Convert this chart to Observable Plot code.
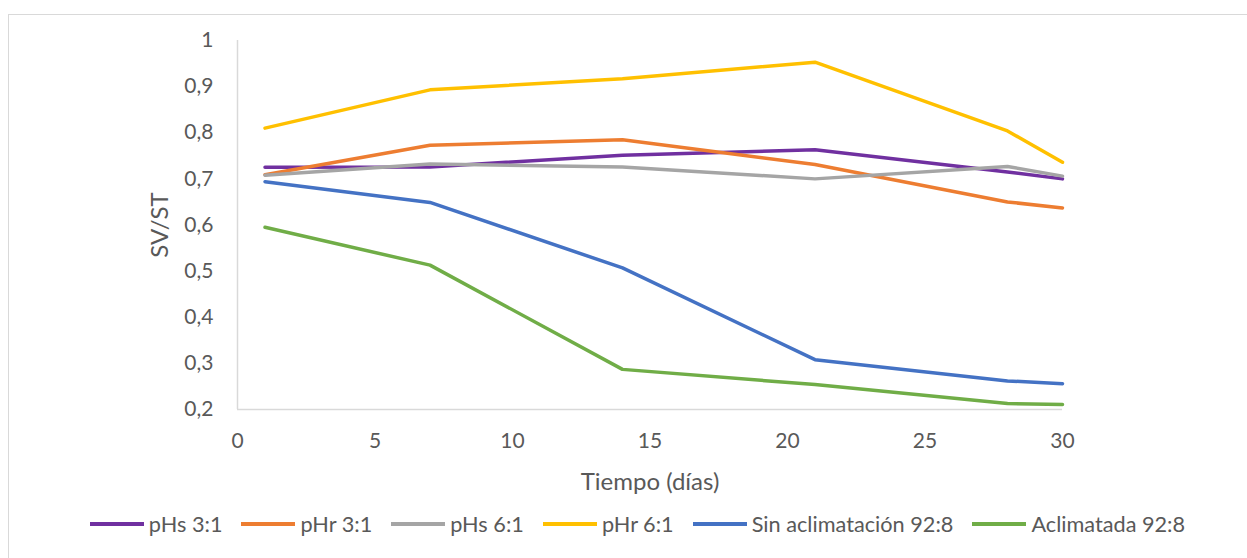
<!DOCTYPE html>
<html>
<head>
<meta charset="utf-8">
<script src="https://cdn.jsdelivr.net/npm/d3@7"></script>
<script src="https://cdn.jsdelivr.net/npm/@observablehq/plot@0.6"></script>
<style>
  html, body { margin: 0; padding: 0; background: #fff; }
  #wrap { position: relative; width: 1247px; height: 558px; overflow: hidden; font-family: Lato, "Open Sans", sans-serif; }
  #frame { position: absolute; left: 8px; top: 14px; width: 1260px; height: 580px; border: 1.5px solid #d9d9d9; box-sizing: border-box; }
  #chart { position: absolute; left: 0; top: 0; }
  #legend { position: absolute; left: 0; top: 511px; width: 1247px; display: flex; justify-content: center; gap: 19px; padding-left: 28px; box-sizing: border-box; font-size: 21.7px; line-height: 26px; color: #595959; }
  .item { display: flex; align-items: center; gap: 5px; }
  .sw { width: 54px; height: 4px; }
</style>
</head>
<body>
<div id="wrap">
  <div id="frame"></div>
  <div id="chart"></div>
  <div id="legend"></div>
</div>
<script>
// Days on which SV/ST was measured
const days = [1, 7, 14, 21, 28, 30];

// SV/ST ratio per treatment
const pHs31 = [0.725, 0.726, 0.751, 0.763, 0.715, 0.700];
const pHr31 = [0.709, 0.773, 0.785, 0.731, 0.650, 0.637];
const pHs61 = [0.708, 0.732, 0.726, 0.700, 0.727, 0.706];
const pHr61 = [0.810, 0.893, 0.917, 0.953, 0.804, 0.736];
const sinAclim = [0.694, 0.649, 0.507, 0.308, 0.262, 0.256];
const aclimatada = [0.595, 0.513, 0.287, 0.254, 0.213, 0.211];

const seriesNames = ["pHs 3:1", "pHr 3:1", "pHs 6:1", "pHr 6:1", "Sin aclimatación 92:8", "Aclimatada 92:8"];
const seriesValues = [pHs31, pHr31, pHs61, pHr61, sinAclim, aclimatada];
const seriesColors = ["#7030A0", "#ED7D31", "#A5A5A5", "#FFC000", "#4472C4", "#70AD47"];

// Axis ticks and titles
const xTicks = [0, 5, 10, 15, 20, 25, 30];
const yTicks = [0.2, 0.3, 0.4, 0.5, 0.6, 0.7, 0.8, 0.9, 1];
const xTitle = "Tiempo (días)";
const yTitle = "SV/ST";

const rows = seriesNames.flatMap((name, i) =>
  days.map((d, j) => ({ serie: name, dia: d, valor: seriesValues[i][j] }))
);

// Decimal comma
const fmt = v => String(v).replace(".", ",");

const chart = Plot.plot({
  width: 1247,
  height: 500,
  marginLeft: 237,
  marginRight: 185,
  marginTop: 40,
  marginBottom: 91,
  style: { fontFamily: "Lato, 'Open Sans', sans-serif", fontSize: "21px", color: "#595959", background: "transparent", overflow: "visible" },
  x: { domain: [0, 30], ticks: xTicks, tickSize: 0, tickPadding: 24, tickFormat: fmt, label: xTitle, labelAnchor: "center", labelOffset: 80, labelArrow: "none" },
  y: { domain: [0.2, 1], ticks: yTicks, tickSize: 0, tickPadding: 24, tickFormat: fmt, label: yTitle, labelAnchor: "center", labelOffset: 87, labelArrow: "none" },
  color: { domain: seriesNames, range: seriesColors },
  marks: [
    Plot.ruleX([0], { stroke: "#d9d9d9", strokeWidth: 1.5 }),
    Plot.ruleY([0.2], { stroke: "#d9d9d9", strokeWidth: 1.5 }),
    Plot.line(rows, { x: "dia", y: "valor", z: "serie", stroke: "serie", strokeWidth: 3.5, strokeLinejoin: "round" })
  ]
});
// Axis titles a little larger than the tick labels
chart.querySelectorAll("text").forEach(t => {
  if (t.textContent === xTitle || t.textContent === yTitle) t.style.fontSize = "24px";
});
document.getElementById("chart").appendChild(chart);

const legend = d3.select("#legend");
seriesNames.forEach((name, i) => {
  const it = legend.append("div").attr("class", "item");
  it.append("div").attr("class", "sw").style("background", seriesColors[i]);
  it.append("span").text(name);
});
</script>
</body>
</html>
